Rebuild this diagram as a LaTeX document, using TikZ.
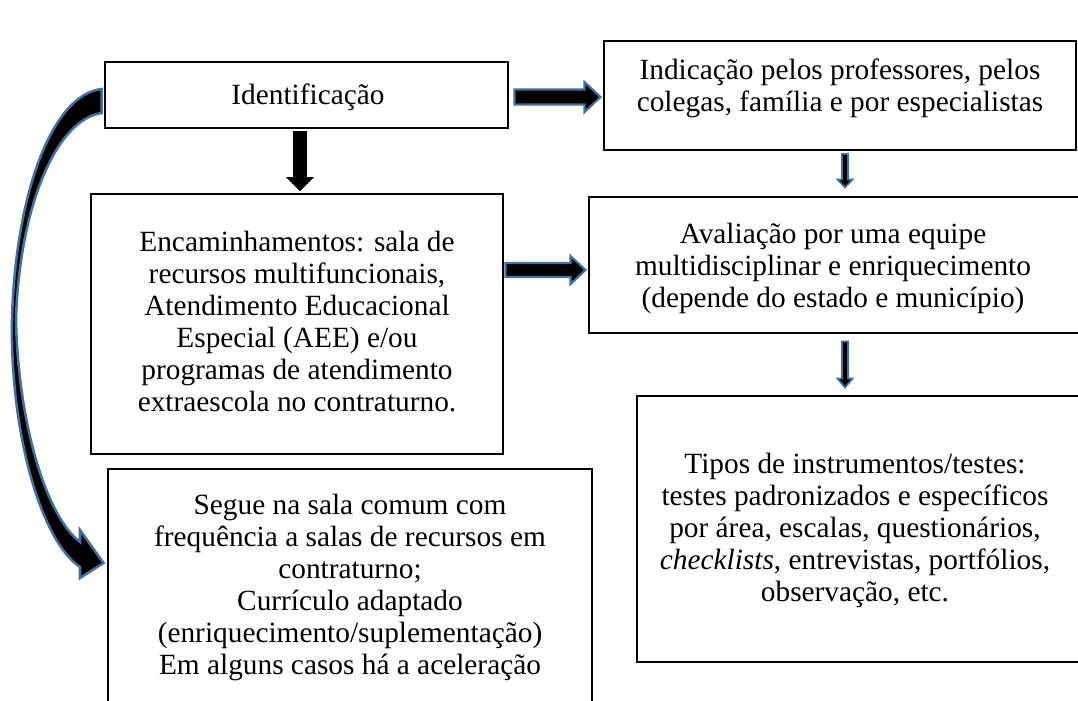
\documentclass[tikz,border=0pt]{standalone}
\usepackage{fontspec}
\setmainfont{Liberation Serif}
\usetikzlibrary{calc}
\definecolor{arrowblue}{RGB}{65,113,160}
\newcommand{\myHArrow}[6]{%
  \path[#1] ($(#2)+(0,-#4)$) -- ($(#3)+(-#6,-#4)$) -- ($(#3)+(-#6,-#5)$) -- (#3)
    -- ($(#3)+(-#6,#5)$) -- ($(#3)+(-#6,#4)$) -- ($(#2)+(0,#4)$) -- cycle;}
\newcommand{\myVArrow}[6]{%
  \path[#1] ($(#2)+(-#4,0)$) -- ($(#3)+(-#4,-#6)$) -- ($(#3)+(-#5,-#6)$) -- (#3)
    -- ($(#3)+(#5,-#6)$) -- ($(#3)+(#4,-#6)$) -- ($(#2)+(#4,0)$) -- cycle;}
\begin{document}
\begin{tikzpicture}[x=0.75pt,y=-0.75pt,
  box/.style={draw=black,line width=2.2pt,inner sep=0pt,fill=none},
  txt/.style={align=center,inner sep=0pt,font=\fontsize{22}{24}\selectfont},
  bluearrow/.style={fill=black,draw=arrowblue,line width=1.6pt,line join=miter},
  thinarrow/.style={fill=black,draw=arrowblue,line width=1.3pt,line join=miter},
  blackarrow/.style={fill=black,draw=black,line width=0.5pt}]
\useasboundingbox (0,0) rectangle (1078,700);
\clip (0,0) rectangle (1078,700);

% boxes
\node[box,minimum width={403*0.75pt},minimum height={66*0.75pt}] (iden) at (306.5,95) {};
\node[txt] (identxt) at (308,97) {Identificação};

\node[box,minimum width={472*0.75pt},minimum height={109*0.75pt}] (indic) at (840,95.5) {};
\node[txt] (indictxt) at (840,88) {Indicação pelos professores, pelos\\colegas, família e por especialistas};

\node[box,minimum width={412*0.75pt},minimum height={260*0.75pt}] (encam) at (297,324) {};
\node[txt] (encamtxt) at (297,322) {Encaminhamentos: sala de\\recursos multifuncionais,\\Atendimento Educacional\\Especial (AEE) e/ou\\programas de atendimento\\extraescola no contraturno.};

\node[box,minimum width={491*0.75pt},minimum height={136*0.75pt}] (aval) at (834.5,265) {};
\node[txt] (avaltxt) at (833,268) {Avaliação por uma equipe\\multidisciplinar e enriquecimento\\(depende do estado e município)};

\node[box,minimum width={443*0.75pt},minimum height={266*0.75pt}] (tipos) at (858.5,529) {};
\node[txt] (tipostxt) at (855,530) {Tipos de instrumentos/testes:\\testes padronizados e específicos\\por área, escalas, questionários,\\\textit{checklists}, entrevistas, portfólios,\\observação, etc.};

\node[box,minimum width={484*0.75pt},minimum height={238*0.75pt}] (segue) at (350,588) {};
\node[txt] (seguetxt) at (350,587) {Segue na sala comum com\\frequência a salas de recursos em\\contraturno;\\Currículo adaptado\\(enriquecimento/suplementação)\\Em alguns casos há a aceleração};

% straight block arrows
\coordinate (a1s) at ($(iden.east)+(5,2)$);
\coordinate (a1e) at ($(a1s -| indic.west)+(-2,0)$);
\myHArrow{bluearrow}{a1s}{a1e}{7.5}{15}{16}

\coordinate (a2s) at ($(encam.east)+(1,-54)$);
\coordinate (a2e) at ($(a2s -| aval.west)+(-2,0)$);
\myHArrow{bluearrow}{a2s}{a2e}{7}{14}{15}

\coordinate (a3s) at ($(iden.south)+(-6.5,2)$);
\coordinate (a3e) at ($(a3s |- encam.north)+(0,-2)$);
\myVArrow{blackarrow}{a3s}{a3e}{6.5}{13}{13}

\coordinate (a4s) at ($(indic.south)+(5,2.5)$);
\coordinate (a4e) at ($(a4s |- aval.north)+(0,-8)$);
\myVArrow{thinarrow}{a4s}{a4e}{3}{7.5}{8}

\coordinate (a5s) at ($(aval.south)+(10.5,7)$);
\coordinate (a5e) at ($(a5s |- tipos.north)+(0,-7)$);
\myVArrow{thinarrow}{a5s}{a5e}{3}{7.5}{9}

% curved arrow from Identificacao to Segue
\coordinate (ctop) at ($(iden.west)+(-2,-6)$);
\coordinate (cbot) at ($(iden.west)+(-2,18)$);
\coordinate (ctip) at ($(segue.west)+(-3,-25)$);
\path[bluearrow,line width=1.9pt]
  (ctop) .. controls (50,95) and (15,200) .. (12,320)
  .. controls (10,430) and (40,540) .. (80,567)
  -- (80,578) -- (ctip) -- (80,530) -- (80,542)
  .. controls (45,515) and (18,420) .. (16,320)
  .. controls (19,210) and (55,120) .. (cbot) -- cycle;
\end{tikzpicture}
\end{document}
